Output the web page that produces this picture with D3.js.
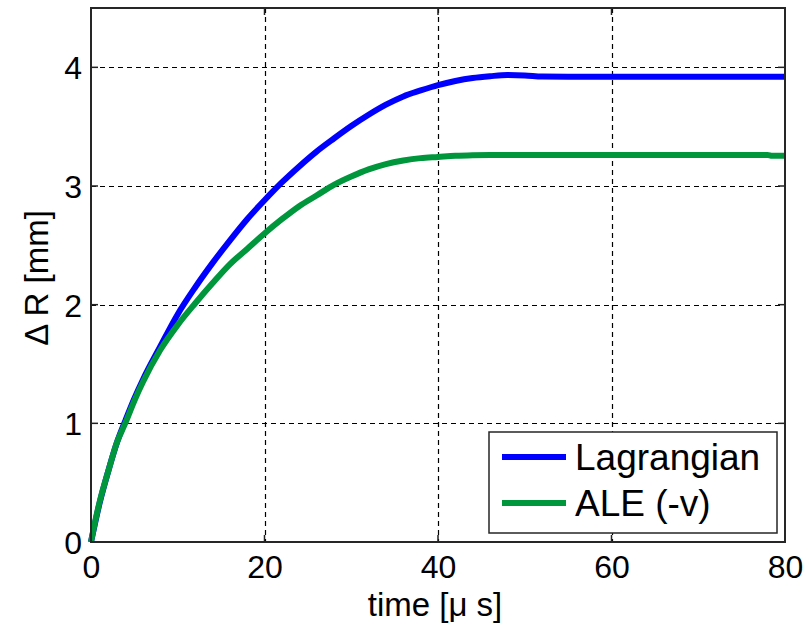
<!DOCTYPE html>
<html>
<head>
<meta charset="utf-8">
<script src="https://cdn.jsdelivr.net/npm/d3@7"></script>
<style>
  html, body { margin: 0; padding: 0; background: #fff; }
  svg { display: block; font-family: "Liberation Sans", Arial, sans-serif; }
</style>
</head>
<body>
<svg id="chart" width="809" height="629"></svg>
<script>
// Time samples [µs]
const timeUs = [0, 0.5, 1, 2, 3, 4, 5, 6, 8, 10, 12, 14, 16, 18, 20, 22, 24, 26, 28, 30,
                32, 34, 36, 38, 40, 42, 44, 46, 48, 50, 52, 55, 60, 70, 78, 78.5, 80];
// Radius change ΔR [mm], Lagrangian run
const lagrangian = [0, 0.17, 0.33, 0.6, 0.84, 1.03, 1.21, 1.37, 1.65, 1.92, 2.145, 2.35, 2.54, 2.72, 2.88, 3.03,
                    3.165, 3.29, 3.40, 3.505, 3.60, 3.685, 3.755, 3.805, 3.85, 3.885, 3.91, 3.925, 3.935, 3.932,
                    3.922, 3.92, 3.92, 3.92, 3.92, 3.92, 3.92];
// Radius change ΔR [mm], ALE (-v) run
const ale = [0, 0.18, 0.34, 0.6, 0.84, 1.01, 1.19, 1.35, 1.62, 1.83, 2.01, 2.18, 2.34, 2.47, 2.60, 2.72,
             2.83, 2.92, 3.01, 3.08, 3.14, 3.185, 3.215, 3.235, 3.245, 3.255, 3.26, 3.262, 3.262, 3.262,
             3.262, 3.262, 3.262, 3.262, 3.262, 3.255, 3.255];

const seriesNames = ["Lagrangian", "ALE (-v)"];
const seriesColors = ["#0000ff", "#00963c"];
const xTicks = [0, 20, 40, 60, 80];
const yTicks = [0, 1, 2, 3, 4];
const xLabel = "time [\u03bc s]";
const yLabel = "\u0394 R [mm]";

const svg = d3.select("#chart");
const plot = { left: 91, top: 8, right: 785, bottom: 542 };

const x = d3.scaleLinear().domain([0, 80]).range([plot.left, plot.right]);
const y = d3.scaleLinear().domain([0, 4.5]).range([plot.bottom, plot.top]);

// Grid
const grid = svg.append("g").attr("stroke", "#000").attr("stroke-width", 1.2)
  .attr("stroke-dasharray", "5,4");
grid.selectAll(".gx").data(xTicks.slice(1, -1)).join("line")
  .attr("x1", d => Math.round(x(d)) + 0.5).attr("x2", d => Math.round(x(d)) + 0.5)
  .attr("y1", plot.top).attr("y2", plot.bottom);
grid.selectAll(".gy").data(yTicks.slice(1)).join("line")
  .attr("y1", d => Math.round(y(d)) + 0.5).attr("y2", d => Math.round(y(d)) + 0.5)
  .attr("x1", plot.left).attr("x2", plot.right);

// Inward tick marks on all four sides
const tickLen = 7;
const tk = svg.append("g").attr("stroke", "#222").attr("stroke-width", 1.5);
xTicks.forEach(d => {
  tk.append("line").attr("x1", x(d)).attr("x2", x(d)).attr("y1", plot.bottom).attr("y2", plot.bottom - tickLen);
  tk.append("line").attr("x1", x(d)).attr("x2", x(d)).attr("y1", plot.top).attr("y2", plot.top + tickLen);
});
yTicks.forEach(d => {
  tk.append("line").attr("y1", y(d)).attr("y2", y(d)).attr("x1", plot.left).attr("x2", plot.left + tickLen);
  tk.append("line").attr("y1", y(d)).attr("y2", y(d)).attr("x1", plot.right).attr("x2", plot.right - tickLen);
});

// Curves
const line = d3.line().x(d => x(d[0])).y(d => y(d[1])).curve(d3.curveMonotoneX);
[lagrangian, ale].forEach((vals, i) => {
  svg.append("path")
    .datum(timeUs.map((t, k) => [t, vals[k]]))
    .attr("fill", "none")
    .attr("stroke", seriesColors[i])
    .attr("stroke-width", 6)
    .attr("d", line);
});

// Axis box
svg.append("rect")
  .attr("x", plot.left).attr("y", plot.top)
  .attr("width", plot.right - plot.left).attr("height", plot.bottom - plot.top)
  .attr("fill", "none").attr("stroke", "#262626").attr("stroke-width", 2);

// Tick labels
const xAxis = d3.axisBottom(x).tickValues(xTicks).tickSize(0).tickPadding(12).tickFormat(d3.format("d"));
const gx = svg.append("g").attr("transform", `translate(0,${plot.bottom})`).call(xAxis);
gx.select(".domain").remove();
gx.selectAll("text").attr("font-size", 32).attr("font-family", "Liberation Sans, Arial, sans-serif")
  .attr("fill", "#000").attr("dy", "0.75em");

const yAxis = d3.axisLeft(y).tickValues(yTicks).tickSize(0).tickPadding(9).tickFormat(d3.format("d"));
const gy = svg.append("g").attr("transform", `translate(${plot.left},0)`).call(yAxis);
gy.select(".domain").remove();
gy.selectAll("text").attr("font-size", 32).attr("font-family", "Liberation Sans, Arial, sans-serif")
  .attr("fill", "#000").attr("dy", "0.36em");

// Axis titles
svg.append("text")
  .attr("x", (plot.left + plot.right) / 2 - 3).attr("y", 616)
  .attr("text-anchor", "middle").attr("font-size", 33).attr("fill", "#000")
  .text(xLabel);
svg.append("text")
  .attr("transform", `translate(48,${(plot.top + plot.bottom) / 2 + 3}) rotate(-90)`)
  .attr("text-anchor", "middle").attr("font-size", 33).attr("fill", "#000")
  .text(yLabel);

// Legend
const lg = svg.append("g");
lg.append("rect").attr("x", 489).attr("y", 432).attr("width", 288).attr("height", 101)
  .attr("fill", "#fff").attr("stroke", "#262626").attr("stroke-width", 1.5);
seriesNames.forEach((name, i) => {
  const ly = 457 + i * 46;
  lg.append("line").attr("x1", 502).attr("x2", 566).attr("y1", ly).attr("y2", ly)
    .attr("stroke", seriesColors[i]).attr("stroke-width", 6);
  lg.append("text").attr("x", 575).attr("y", ly).attr("dy", "0.36em")
    .attr("font-size", 37).attr("fill", "#000").text(name);
});
</script>
</body>
</html>
